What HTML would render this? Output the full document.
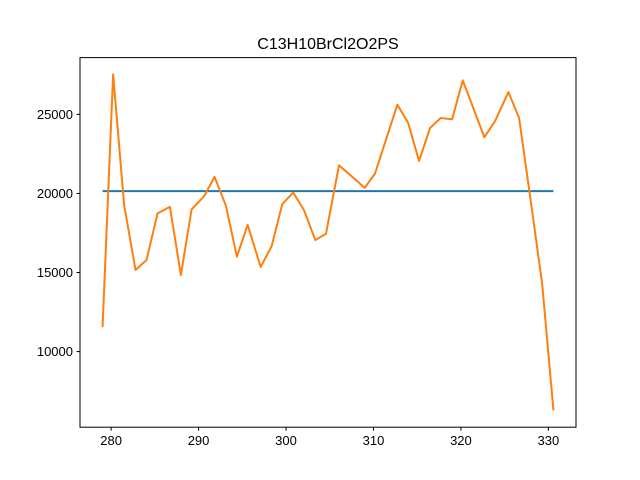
<!DOCTYPE html>
<html><head><meta charset="utf-8"><style>
html,body{margin:0;padding:0;background:#fff;}
svg{display:block;font-family:"Liberation Sans","DejaVu Sans",sans-serif;}
</style></head><body>
<svg id="chart" width="640" height="480" viewBox="0 0 640 480" xmlns="http://www.w3.org/2000/svg">
<rect x="0" y="0" width="640" height="480" fill="#fff"/>
<text x="328" y="49" text-anchor="middle" font-size="16" fill="#000">C13H10BrCl2O2PS</text>
<g id="xticks"></g>
<g id="yticks"></g>
<g id="series"></g>
<rect x="80" y="57.6" width="496" height="369.6" fill="none" stroke="#000" stroke-width="1"/>
</svg>
<script>
const xValues = [279.02,280.23,281.49,282.79,284.05,285.31,286.72,287.98,289.20,290.64,291.83,293.13,294.38,295.61,297.10,298.36,299.57,300.83,302.05,303.35,304.57,306.06,309.00,310.18,312.73,313.95,315.21,316.47,317.69,318.99,320.21,322.68,323.91,325.43,326.65,327.97,329.29,330.58];
const yValues = [11544,27527,19261,15159,15790,18737,19154,14844,18990,19829,21047,19217,15999,18018,15349,16674,19324,20062,18945,17052,17450,21785,20352,21261,25615,24479,22056,24138,24769,24687,27148,23552,24580,26410,24769,19576,14276,6281];
const meanValue = [20144];
const xTickLabels = [280,290,300,310,320,330];
const yTickLabels = [10000,15000,20000,25000];

const NS = "http://www.w3.org/2000/svg";
const L=80,R=576,T=57.6,B=427.2;
const xmin=Math.min(...xValues), xmax=Math.max(...xValues);
const ymin=Math.min(...yValues), ymax=Math.max(...yValues);
const xm=(xmax-xmin)*0.05, ym=(ymax-ymin)*0.05;
const X=v=>L+(v-(xmin-xm))/((xmax+xm)-(xmin-xm))*(R-L);
const Y=v=>B-(v-(ymin-ym))/((ymax+ym)-(ymin-ym))*(B-T);
function mk(tag,attrs,parent){const e=document.createElementNS(NS,tag);for(const k in attrs)e.setAttribute(k,attrs[k]);parent.appendChild(e);return e;}
const xg=document.getElementById('xticks'), yg=document.getElementById('yticks'), sg=document.getElementById('series');
xTickLabels.forEach(t=>{
  const l=mk('line',{x1:X(t),x2:X(t),y1:B,y2:B+3.5,stroke:'#000','stroke-width':1},xg);
  
  
  const tx=mk('text',{x:X(t),y:B+18,'text-anchor':'middle','font-size':13,fill:'#000'},xg);
  tx.textContent=t;
  
  
});
yTickLabels.forEach(t=>{
  const l=mk('line',{x1:L-3.5,x2:L,y1:Y(t),y2:Y(t),stroke:'#000','stroke-width':1},yg);
  
  
  const tx=mk('text',{x:L-7,y:Y(t)+4.5,'text-anchor':'end','font-size':13,fill:'#000'},yg);
  tx.textContent=t;
  
  
});
const mean=mk('line',{x1:X(xmin),x2:X(xmax),y1:Y(meanValue[0]),y2:Y(meanValue[0]),stroke:'#1f77b4','stroke-width':2},sg);


const pts=xValues.map((x,i)=>X(x).toFixed(2)+','+Y(yValues[i]).toFixed(2)).join(' ');
const pl=mk('polyline',{points:pts,fill:'none',stroke:'#ff7f0e','stroke-width':2,'stroke-linejoin':'round'},sg);


</script>
</body></html>
